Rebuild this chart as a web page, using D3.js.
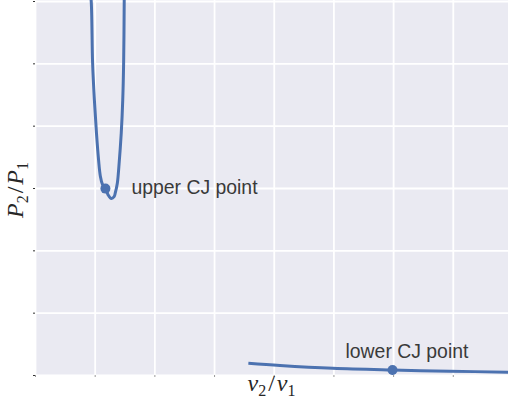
<!DOCTYPE html>
<html>
<head>
<meta charset="utf-8">
<script src="https://cdn.jsdelivr.net/npm/d3@7"></script>
<style>
  body { margin: 0; background: #fff; }
  svg { display: block; }
</style>
</head>
<body>
<div id="chart"></div>
<script>
//Chart data
var upperV = [0.185, 0.188, 0.193, 0.199, 0.206, 0.213, 0.219, 0.226, 0.236, 0.245, 0.256, 0.265, 0.269, 0.276, 0.281, 0.289, 0.294, 0.297, 0.299, 0.299];
var upperP = [61.0, 60.2, 50.1, 44.1, 38.8, 34.5, 31.9, 30.6, 29.9, 28.9, 28.3, 28.6, 29.2, 30.8, 33.4, 38.8, 44.1, 50.1, 60.2, 61.0];
var lowerV = [0.715, 0.821, 0.998, 1.198, 1.390, 1.591];
var lowerP = [1.88, 1.52, 1.07, 0.80, 0.61, 0.45];
var cjV = [0.236, 1.198];
var cjP = [29.9, 0.80];
var cjLabels = ["upper CJ point", "lower CJ point"];
var xTicks = [0, 0.2, 0.4, 0.6, 0.8, 1.0, 1.2, 1.4];
var yTicks = [0, 10, 20, 30, 40, 50, 60];

//Chart space
var svgWidth = 508;
var svgHeight = 402;
var margin = { top: 1, right: 0, bottom: 27, left: 35 };
var width = svgWidth - margin.left - margin.right;
var height = svgHeight - margin.top - margin.bottom;

var svg = d3.select("#chart")
    .append("svg")
    .attr("width", svgWidth)
    .attr("height", svgHeight);

var chartGroup = svg.append("g")
    .attr("transform", `translate(${margin.left}, ${margin.top})`);

//Scales
var xScale = d3.scaleLinear().domain([0, 1.585]).range([0, width]);
var yScale = d3.scaleLinear().domain([0, 60]).range([height, 0]);

//Background
chartGroup.append("rect")
    .attr("x", 0)
    .attr("y", -margin.top)
    .attr("width", width)
    .attr("height", height + margin.top)
    .attr("fill", "#EAEAF2");

chartGroup.append("clipPath")
    .attr("id", "plotClip")
    .append("rect")
    .attr("x", 0)
    .attr("y", -margin.top)
    .attr("width", width)
    .attr("height", height + margin.top);

//Grid
var xGrid = d3.axisBottom(xScale).tickValues(xTicks).tickSize(-height - margin.top).tickFormat("");
var yGrid = d3.axisLeft(yScale).tickValues(yTicks).tickSize(-width).tickFormat("");

chartGroup.append("g")
    .attr("transform", `translate(0, ${height})`)
    .call(xGrid)
    .call(g => g.select(".domain").remove())
    .call(g => g.selectAll("line").attr("stroke", "#fff").attr("stroke-width", 1.8));

chartGroup.append("g")
    .call(yGrid)
    .call(g => g.select(".domain").remove())
    .call(g => g.selectAll("line").attr("stroke", "#fff").attr("stroke-width", 1.8));

//Small tick marks
chartGroup.append("g")
    .attr("transform", `translate(0, ${height})`)
    .call(d3.axisBottom(xScale).tickValues(xTicks).tickSize(2).tickFormat(""))
    .call(g => g.select(".domain").remove())
    .call(g => g.selectAll("line").attr("stroke", "#999").attr("stroke-width", 1));

chartGroup.append("g")
    .call(d3.axisLeft(yScale).tickValues(yTicks).tickSize(2).tickFormat(""))
    .call(g => g.select(".domain").remove())
    .call(g => g.selectAll("line").attr("stroke", "#333").attr("stroke-width", 1));

//Curves
var line = d3.line()
    .x(d => xScale(d[0]))
    .y(d => yScale(d[1]))
    .curve(d3.curveCatmullRom);

var plot = chartGroup.append("g").attr("clip-path", "url(#plotClip)");

plot.append("path")
    .datum(d3.zip(upperV, upperP))
    .attr("d", line)
    .attr("fill", "none")
    .attr("stroke", "#4C72B0")
    .attr("stroke-width", 3);

plot.append("path")
    .datum(d3.zip(lowerV, lowerP))
    .attr("d", line)
    .attr("fill", "none")
    .attr("stroke", "#4C72B0")
    .attr("stroke-width", 3);

//CJ points
plot.selectAll("circle")
    .data(d3.zip(cjV, cjP))
    .enter()
    .append("circle")
    .attr("cx", d => xScale(d[0]))
    .attr("cy", d => yScale(d[1]))
    .attr("r", 5)
    .attr("fill", "#4C72B0");

var labelOffsets = [[26, 5], [-47, -12]];
plot.selectAll("text.cj")
    .data(cjLabels)
    .enter()
    .append("text")
    .attr("class", "cj")
    .attr("x", (d, i) => xScale(cjV[i]) + labelOffsets[i][0])
    .attr("y", (d, i) => yScale(cjP[i]) + labelOffsets[i][1])
    .attr("font-family", "'Liberation Sans', Arial, sans-serif")
    .attr("font-size", "19.4px")
    .attr("fill", "#3a3a3a")
    .text(d => d);

//Axis labels
function mathLabel(sel) {
    sel.attr("font-family", "'Liberation Serif', 'DejaVu Serif', serif")
        .attr("font-style", "italic")
        .attr("font-size", "24px")
        .attr("fill", "#262626")
        .attr("text-anchor", "middle");
}

function addMath(label, letter) {
    label.append("tspan").text(letter);
    label.append("tspan").attr("font-size", "16px").attr("font-style", "normal").attr("dy", 5).text("2");
    label.append("tspan").attr("dy", -5).attr("dx", 2).attr("font-style", "normal").text("/");
    label.append("tspan").attr("dx", 2).text(letter);
    label.append("tspan").attr("font-size", "16px").attr("font-style", "normal").attr("dy", 5).text("1");
}

var xLabel = chartGroup.append("text")
    .attr("x", width / 2)
    .attr("y", height + 16)
    .call(mathLabel);
addMath(xLabel, "v");

var yLabel = chartGroup.append("text")
    .attr("transform", `translate(${-12}, ${height / 2 + 2}) rotate(-90)`)
    .call(mathLabel);
addMath(yLabel, "P");
</script>
</body>
</html>
